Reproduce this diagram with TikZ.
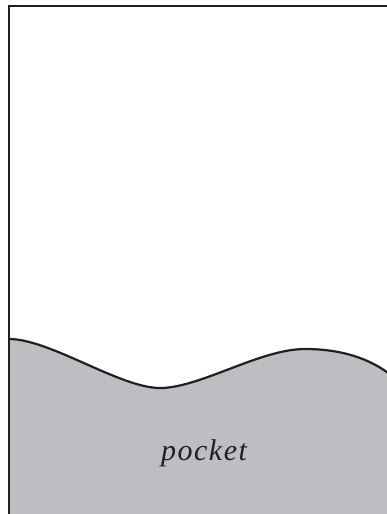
\documentclass[tikz,border=0pt]{standalone}
\usepackage{fontspec}
\newfontfamily\pocketfont[LetterSpace=5]{Liberation Serif Italic}
\definecolor{ink}{HTML}{231F20}
\definecolor{pocketgray}{HTML}{BDBEC1}
\begin{document}
\begin{tikzpicture}[x=1pt,y=-1pt,
  frame/.style={draw=ink,line width=2.6pt},
  wave/.style={draw=ink,line width=2.2pt},
  label/.style={font=\pocketfont\fontsize{30}{32}\selectfont,text=ink,anchor=base,inner sep=0pt}]
\useasboundingbox (0,0) rectangle (387,514);
\clip (0,0) rectangle (387,514);
\coordinate (w0) at (9,339);
\coordinate (w1) at (160,388);
\coordinate (w2) at (305,349);
\coordinate (w3) at (392,376);
\fill[pocketgray] (w0) .. controls (50,339) and (120,388) .. (w1)
  .. controls (200,388) and (260,349) .. (w2)
  .. controls (340,349) and (370,358) .. (w3) -- (400,530) -- (9,530) -- cycle;
\draw[wave] (w0) .. controls (50,339) and (120,388) .. (w1)
  .. controls (200,388) and (260,349) .. (w2)
  .. controls (340,349) and (370,358) .. (w3);
\draw[frame] (9,530) -- (9,6) -- (400,6);
\node[label] (pocket) at (204,460) {pocket};
\end{tikzpicture}
\end{document}
